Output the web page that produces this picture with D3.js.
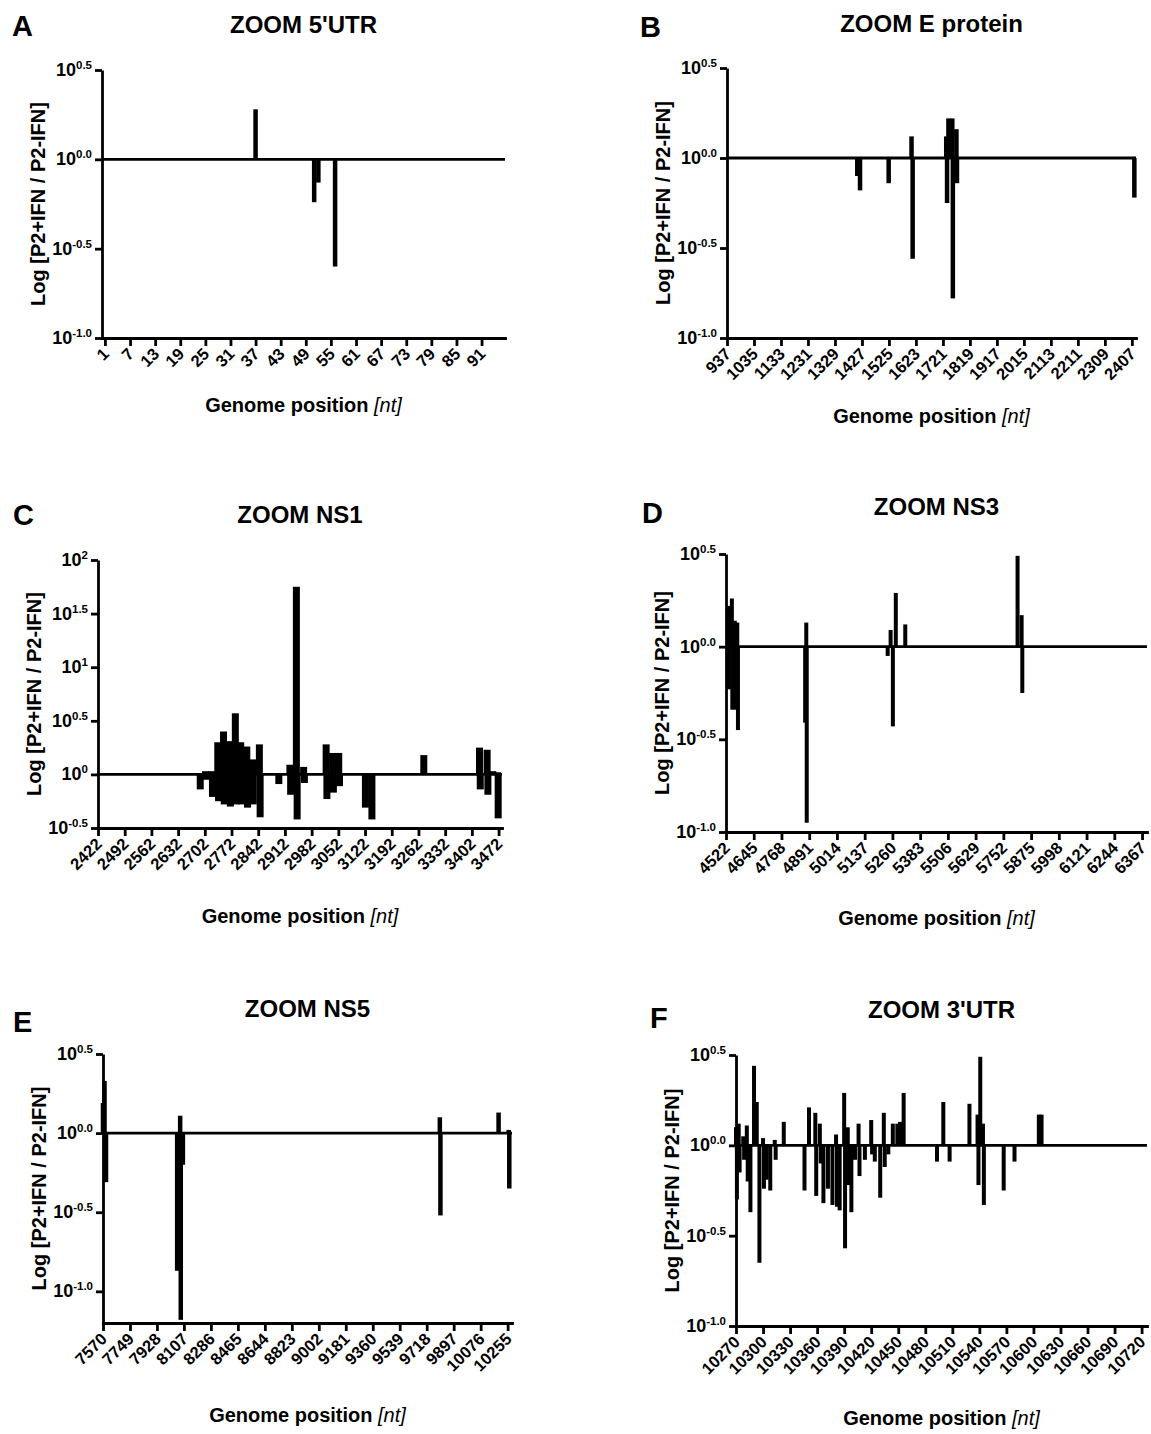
<!DOCTYPE html>
<html>
<head>
<meta charset="utf-8">
<script src="https://cdn.jsdelivr.net/npm/d3@7"></script>
<style>
  body { margin: 0; background: #fff; }
  svg text { font-family: "Liberation Sans", Arial, sans-serif; fill: #000; }
</style>
</head>
<body>
<svg id="fig" width="1151" height="1434"></svg>
<script>
// ---- data: genome position (nt) and log10 ratio [P2+IFN / P2-IFN] ----
// A: 5'UTR
const posA = [37, 51, 52, 56];
const valA = [0.28, -0.24, -0.13, -0.60];
const ticksA = [1, 7, 13, 19, 25, 31, 37, 43, 49, 55, 61, 67, 73, 79, 85, 91];

// B: E protein
const posB = [1410, 1420, 1524, 1607, 1611, 1733, 1736, 1741, 1755, 1757, 1770, 1772, 2416];
const valB = [-0.10, -0.18, -0.14, 0.12, -0.56, 0.12, -0.25, 0.22, 0.22, -0.78, 0.16, -0.14, -0.22];
const ticksB = [937, 1035, 1133, 1231, 1329, 1427, 1525, 1623, 1721, 1819, 1917, 2015, 2113, 2211, 2309, 2407];

// C: NS1
const posC = [2690, 2704, 2706, 2720, 2722, 2736, 2738, 2751, 2753, 2767, 2769, 2782, 2784,
  2796, 2798, 2812, 2814, 2827, 2829, 2845, 2847, 2896, 2925, 2927, 2942, 2944, 2961, 2963,
  3020, 3022, 3037, 3039, 3053, 3055, 3123, 3140, 3276, 3422, 3424, 3442, 3444, 3457, 3469, 3471];
const valC = [-0.14, 0.03, -0.05, 0.03, -0.21, 0.30, -0.25, 0.40, -0.28, 0.31, -0.30, 0.57, -0.28,
  0.30, -0.28, 0.26, -0.31, 0.14, -0.28, 0.28, -0.40, -0.09, 0.09, -0.19, 1.75, -0.42, 0.07, -0.08,
  0.28, -0.23, 0.20, -0.17, 0.20, -0.11, -0.31, -0.42, 0.18, 0.25, -0.14, 0.23, -0.19, 0.03, 0.02, -0.41];
const ticksC = [2422, 2492, 2562, 2632, 2702, 2772, 2842, 2912, 2982, 3052, 3122, 3192, 3262, 3332, 3402, 3472];

// D: NS3
const posD = [4533, 4535, 4548, 4550, 4561, 4563, 4572, 4575, 4873, 4878, 4880,
  5239, 5252, 5262, 5275, 5317, 5815, 5833, 5836];
const valD = [0.22, -0.23, 0.26, -0.34, 0.14, -0.34, 0.13, -0.45, -0.41, 0.13, -0.95,
  -0.05, 0.09, -0.43, 0.29, 0.12, 0.49, 0.17, -0.25];
const ticksD = [4522, 4645, 4768, 4891, 5014, 5137, 5260, 5383, 5506, 5629, 5752, 5875, 5998, 6121, 6244, 6367];

// E: NS5
const posE = [7570, 7580, 7590, 8062, 8082, 8086, 8100, 9805, 9809, 10195, 10262, 10266];
const valE = [0.19, 0.33, -0.31, -0.87, 0.11, -1.18, -0.20, 0.10, -0.52, 0.13, 0.02, -0.35];
const ticksE = [7570, 7749, 7928, 8107, 8286, 8465, 8644, 8823, 9002, 9181, 9360, 9539, 9718, 9897, 10076, 10255];

// F: 3'UTR
const posF = [10270, 10271, 10273, 10274, 10278, 10279, 10282, 10283, 10286, 10290, 10293, 10296,
  10300, 10301, 10304, 10308, 10313, 10314, 10323, 10346, 10351, 10358, 10359, 10363, 10364,
  10367, 10372, 10377, 10381, 10382, 10385, 10390, 10391, 10394, 10395, 10398, 10402, 10406,
  10407, 10413, 10420, 10421, 10424, 10430, 10434, 10435, 10439, 10444, 10449, 10452, 10456,
  10493, 10500, 10507, 10529, 10538, 10539, 10541, 10544, 10545, 10567, 10579, 10606, 10609];
const valF = [0.10, -0.30, 0.12, -0.15, 0.05, -0.08, 0.11, -0.20, -0.37, 0.44, 0.24, -0.65,
  0.04, -0.24, -0.19, -0.25, 0.03, -0.08, 0.13, -0.25, 0.21, 0.18, -0.28, 0.12, -0.10,
  -0.32, -0.24, -0.33, 0.06, -0.34, -0.36, 0.29, -0.57, 0.10, -0.22, -0.37, -0.08, 0.12,
  -0.17, -0.08, 0.14, -0.05, -0.09, -0.29, 0.18, -0.12, -0.05, 0.12, 0.12, 0.13, 0.29,
  -0.09, 0.24, -0.09, 0.23, 0.17, -0.22, 0.49, 0.12, -0.33, -0.25, -0.09, 0.17, 0.17];
const ticksF = [10270, 10300, 10330, 10360, 10390, 10420, 10450, 10480, 10510, 10540, 10570, 10600, 10630, 10660, 10690, 10720];

const yTicksStd = [-1, -0.5, 0, 0.5];
const yLabStd = ["-1.0", "-0.5", "0.0", "0.5"];
const yTicksC = [-0.5, 0, 0.5, 1, 1.5, 2];
const yLabC = ["-0.5", "0", "0.5", "1", "1.5", "2"];

const svg = d3.select("#fig");

const panels = [
  { letter: "A", lx: 12, ly: 36, title: "ZOOM 5'UTR", ty: 33, pos: posA, val: valA, ticks: ticksA,
    xDomain: [0.3, 96.6], yDomain: [-1, 0.5], left: 102, right: 505, top: 70, bottom: 338,
    barW: 4.5, yTicks: yTicksStd, yLab: yLabStd, xTitleY: 412 },
  { letter: "B", lx: 640, ly: 37, title: "ZOOM E protein", ty: 32, pos: posB, val: valB, ticks: ticksB,
    xDomain: [937, 2422], yDomain: [-1, 0.5], left: 727, right: 1136, top: 68, bottom: 338,
    barW: 4.5, yTicks: yTicksStd, yLab: yLabStd, xTitleY: 423 },
  { letter: "C", lx: 13, ly: 525, title: "ZOOM NS1", ty: 523, pos: posC, val: valC, ticks: ticksC,
    xDomain: [2422, 3481], yDomain: [-0.5, 2], left: 98, right: 502, top: 560, bottom: 828,
    barW: 7, yTicks: yTicksC, yLab: yLabC, xTitleY: 923 },
  { letter: "D", lx: 642, ly: 523, title: "ZOOM NS3", ty: 515, pos: posD, val: valD, ticks: ticksD,
    xDomain: [4522, 6389], yDomain: [-1, 0.5], left: 726, right: 1147, top: 554, bottom: 832,
    barW: 4, yTicks: yTicksStd, yLab: yLabStd, xTitleY: 925 },
  { letter: "E", lx: 13, ly: 1032, title: "ZOOM NS5", ty: 1017, pos: posE, val: valE, ticks: ticksE,
    xDomain: [7570, 10284], yDomain: [-1.2, 0.5], left: 103, right: 512, top: 1054, bottom: 1323,
    barW: 4.5, yTicks: yTicksStd, yLab: yLabStd, xTitleY: 1422 },
  { letter: "F", lx: 650, ly: 1028, title: "ZOOM 3'UTR", ty: 1018, pos: posF, val: valF, ticks: ticksF,
    xDomain: [10270, 10726], yDomain: [-1, 0.5], left: 736, right: 1147, top: 1055, bottom: 1326,
    barW: 4, yTicks: yTicksStd, yLab: yLabStd, xTitleY: 1425 }
];

function drawPanel(p) {
  const g = svg.append("g");
  const x = d3.scaleLinear().domain(p.xDomain).range([p.left, p.right]);
  const y = d3.scaleLinear().domain(p.yDomain).range([p.bottom, p.top]);
  const cx = (p.left + p.right) / 2;

  // bars
  g.selectAll("rect.bar")
    .data(d3.zip(p.pos, p.val))
    .join("rect")
    .attr("class", "bar")
    .attr("x", (d) => x(d[0]) - p.barW / 2)
    .attr("width", p.barW)
    .attr("y", (d) => y(Math.max(0, d[1])))
    .attr("height", (d) => Math.abs(y(d[1]) - y(0)))
    .attr("fill", "#000");

  // baseline at 10^0
  g.append("line")
    .attr("x1", p.left).attr("x2", p.right)
    .attr("y1", y(0)).attr("y2", y(0))
    .attr("stroke", "#000").attr("stroke-width", 2.8);

  // y axis
  const ya = g.append("g")
    .attr("transform", `translate(${p.left},0)`)
    .call(d3.axisLeft(y).tickValues(p.yTicks).tickSize(7).tickSizeOuter(0).tickFormat(""));
  ya.selectAll("path, line").attr("stroke-width", 2.8).attr("stroke", "#000");

  // y tick labels 10^x
  p.yTicks.forEach((t, i) => {
    const tx = g.append("text")
      .attr("x", p.left - 10)
      .attr("y", y(t) + 6)
      .attr("text-anchor", "end")
      .attr("font-weight", "bold");
    tx.append("tspan").attr("font-size", 18).text("10");
    tx.append("tspan").attr("font-size", 11.5).attr("dy", -7).text(p.yLab[i]);
  });

  // x axis
  const xa = g.append("g")
    .attr("transform", `translate(0,${p.bottom})`)
    .call(d3.axisBottom(x).tickValues(p.ticks).tickSize(8).tickSizeOuter(0).tickFormat(""));
  xa.selectAll("path, line").attr("stroke-width", 2.8).attr("stroke", "#000");
  xa.select("path").attr("stroke-linecap", "square");

  g.selectAll("text.xt")
    .data(p.ticks)
    .join("text")
    .attr("class", "xt")
    .attr("transform", (d) => `translate(${x(d) + 5},${p.bottom + 17}) rotate(-45)`)
    .attr("text-anchor", "end")
    .attr("font-size", 16.5)
    .attr("font-weight", "bold")
    .text((d) => d);

  // axis titles
  const xt = g.append("text")
    .attr("x", cx).attr("y", p.xTitleY)
    .attr("text-anchor", "middle")
    .attr("font-size", 20);
  xt.append("tspan").attr("font-weight", "bold").text("Genome position ");
  xt.append("tspan").attr("font-style", "italic").text("[nt]");

  g.append("text")
    .attr("transform", `translate(${p.left - 57},${(p.top + p.bottom) / 2}) rotate(-90)`)
    .attr("text-anchor", "middle")
    .attr("font-size", 20)
    .attr("font-weight", "bold")
    .text("Log [P2+IFN / P2-IFN]");

  // title and panel letter
  g.append("text")
    .attr("x", cx).attr("y", p.ty)
    .attr("text-anchor", "middle")
    .attr("font-size", 24)
    .attr("font-weight", "bold")
    .text(p.title);

  g.append("text")
    .attr("x", p.lx).attr("y", p.ly)
    .attr("font-family", "'Open Sans', sans-serif")
    .attr("font-size", 29)
    .attr("font-weight", "bold")
    .text(p.letter);
}

panels.forEach(drawPanel);
</script>
</body>
</html>
